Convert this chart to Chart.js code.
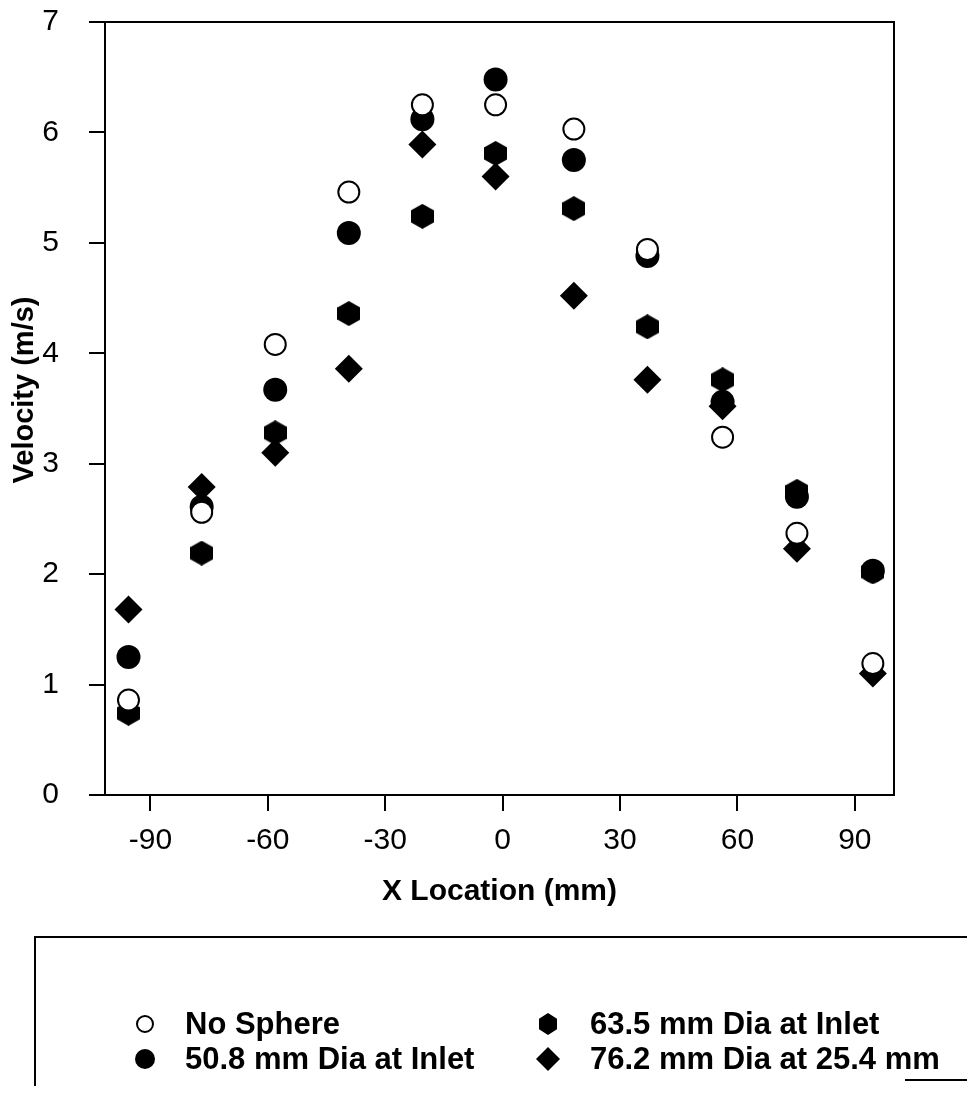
<!DOCTYPE html>
<html>
<head>
<meta charset="utf-8">
<script src="https://cdn.jsdelivr.net/npm/chart.js@4/dist/chart.umd.min.js"></script>
<style>
html, body { margin: 0; padding: 0; background: #fff; }
</style>
</head>
<body>
<canvas id="myChart" width="967" height="1097"></canvas>
<script>
// x location of each measuring station (mm)
const x_location = [-95.6, -76.9, -58.1, -39.3, -20.5, -1.8, 18.2, 37.0, 56.2, 75.2, 94.6];

// velocities (m/s)
const no_sphere = [0.86, 2.56, 4.08, 5.46, 6.25, 6.25, 6.03, 4.94, 3.24, 2.37, 1.19];
const dia_508_inlet = [1.25, 2.61, 3.67, 5.09, 6.12, 6.48, 5.75, 4.88, 3.56, 2.70, 2.03];
const dia_635_inlet = [0.74, 2.19, 3.28, 4.36, 5.24, 5.81, 5.31, 4.24, 3.76, 2.75, 2.02];
const dia_762_254 = [1.68, 2.79, 3.10, 3.86, 5.89, 5.60, 4.52, 3.76, 3.52, 2.23, 1.10];

const series_labels = ['No Sphere', '50.8 mm Dia at Inlet', '63.5 mm Dia at Inlet', '76.2 mm Dia at 25.4 mm'];
const x_ticks = [-90, -60, -30, 0, 30, 60, 90];
const y_ticks = [0, 1, 2, 3, 4, 5, 6, 7];

const FONT = "'Liberation Sans', Arial, Helvetica, sans-serif";

function hexagon(w, h) {
    const c = document.createElement('canvas');
    c.width = w;
    c.height = h;
    const g = c.getContext('2d');
    g.fillStyle = '#000';
    g.beginPath();
    g.moveTo(w / 2, 0);
    g.lineTo(w, h * 0.26);
    g.lineTo(w, h * 0.74);
    g.lineTo(w / 2, h);
    g.lineTo(0, h * 0.74);
    g.lineTo(0, h * 0.26);
    g.closePath();
    g.fill();
    return c;
}

const hex_big = hexagon(23, 25);
const hex_small = hexagon(18, 22);

function points(values) {
    return x_location.map((x, i) => ({ x: x, y: values[i] }));
}

const graph_data = {
    datasets: [{
        label: series_labels[0],
        data: points(no_sphere),
        order: 0,
        pointStyle: 'circle',
        pointRadius: 10.5,
        pointBorderWidth: 2,
        pointBackgroundColor: '#fff',
        pointBorderColor: '#000'
    }, {
        label: series_labels[1],
        data: points(dia_508_inlet),
        order: 2,
        pointStyle: 'circle',
        pointRadius: 12,
        pointBorderWidth: 0,
        pointBackgroundColor: '#000',
        pointBorderColor: '#000'
    }, {
        label: series_labels[2],
        data: points(dia_635_inlet),
        order: 1,
        pointStyle: hex_big,
        pointRadius: 12,
        pointBackgroundColor: '#000',
        pointBorderColor: '#000'
    }, {
        label: series_labels[3],
        data: points(dia_762_254),
        order: 3,
        pointStyle: 'rectRot',
        pointRadius: 14,
        pointBorderWidth: 0,
        pointBackgroundColor: '#000',
        pointBorderColor: '#000'
    }]
};

// frame around the plot area + the y title
const frame_plugin = {
    id: 'frame',
    beforeDatasetsDraw(chart) {
        const a = chart.chartArea;
        const ctx = chart.ctx;
        ctx.save();
        ctx.strokeStyle = '#000';
        ctx.lineWidth = 2;
        ctx.strokeRect(a.left, a.top, a.right - a.left, a.bottom - a.top);

        ctx.translate(25, 390);
        ctx.rotate(-Math.PI / 2);
        ctx.fillStyle = '#000';
        ctx.font = 'bold 29px ' + FONT;
        ctx.textAlign = 'center';
        ctx.textBaseline = 'middle';
        ctx.fillText('Velocity (m/s)', 0, 0);
        ctx.restore();
    }
};

// boxed legend below the chart, two columns
const legend_plugin = {
    id: 'boxLegend',
    afterDraw(chart) {
        const ctx = chart.ctx;
        ctx.save();
        ctx.strokeStyle = '#000';
        ctx.lineWidth = 2;
        ctx.beginPath();
        ctx.moveTo(35, 1086);
        ctx.lineTo(35, 937);
        ctx.lineTo(970, 937);
        ctx.moveTo(905, 1080);
        ctx.lineTo(970, 1080);
        ctx.stroke();

        const spots = [[145, 1024], [145, 1059], [548, 1024], [548, 1059]];
        const text_x = [185, 185, 590, 590];
        chart.data.datasets.forEach((ds, i) => {
            const [mx, my] = spots[i];
            ctx.fillStyle = '#000';
            ctx.strokeStyle = '#000';
            ctx.beginPath();
            if (i === 0) {
                ctx.arc(mx, my, 8, 0, Math.PI * 2);
                ctx.fillStyle = '#fff';
                ctx.fill();
                ctx.lineWidth = 2;
                ctx.stroke();
            } else if (i === 1) {
                ctx.arc(mx, my, 10, 0, Math.PI * 2);
                ctx.fill();
            } else if (i === 2) {
                ctx.drawImage(hex_small, mx - 9, my - 11);
            } else {
                ctx.moveTo(mx, my - 12);
                ctx.lineTo(mx + 12, my);
                ctx.lineTo(mx, my + 12);
                ctx.lineTo(mx - 12, my);
                ctx.closePath();
                ctx.fill();
            }
            ctx.fillStyle = '#000';
            ctx.font = 'bold 31px ' + FONT;
            ctx.textAlign = 'left';
            ctx.textBaseline = 'middle';
            ctx.fillText(ds.label, text_x[i], my + 1);
        });
        ctx.restore();
    }
};

const config = {
    type: 'scatter',
    data: graph_data,
    options: {
        responsive: false,
        animation: false,
        layout: {
            padding: { left: 11, top: 22, right: 73, bottom: 187 }
        },
        plugins: {
            legend: { display: false },
            tooltip: { enabled: false }
        },
        scales: {
            x: {
                type: 'linear',
                min: -101.6,
                max: 100,
                afterBuildTicks: (scale) => { scale.ticks = x_ticks.map(v => ({ value: v })); },
                afterFit: (scale) => {
                    scale.height = 115;
                    scale.paddingLeft = 0;
                    scale.paddingRight = 0;
                },
                grid: {
                    drawOnChartArea: false,
                    drawTicks: true,
                    tickLength: 16,
                    color: '#000',
                    lineWidth: 2
                },
                border: { display: false },
                ticks: {
                    color: '#000',
                    padding: 12,
                    maxRotation: 0,
                    font: { family: FONT, size: 30 }
                },
                title: {
                    display: true,
                    text: 'X Location (mm)',
                    color: '#000',
                    padding: 0,
                    font: { family: FONT, size: 30, weight: 'bold' }
                }
            },
            y: {
                min: 0,
                max: 7,
                afterBuildTicks: (scale) => { scale.ticks = y_ticks.map(v => ({ value: v })); },
                afterFit: (scale) => {
                    scale.width = 94;
                    scale.paddingTop = 0;
                    scale.paddingBottom = 0;
                },
                grid: {
                    drawOnChartArea: false,
                    drawTicks: true,
                    tickLength: 16,
                    color: '#000',
                    lineWidth: 2
                },
                border: { display: false },
                ticks: {
                    color: '#000',
                    padding: 30,
                    font: { family: FONT, size: 30 }
                },
                title: { display: false }
            }
        }
    },
    plugins: [frame_plugin, legend_plugin]
};

var ctx = document.getElementById('myChart').getContext('2d');
var myChart = new Chart(ctx, config);
</script>
</body>
</html>
